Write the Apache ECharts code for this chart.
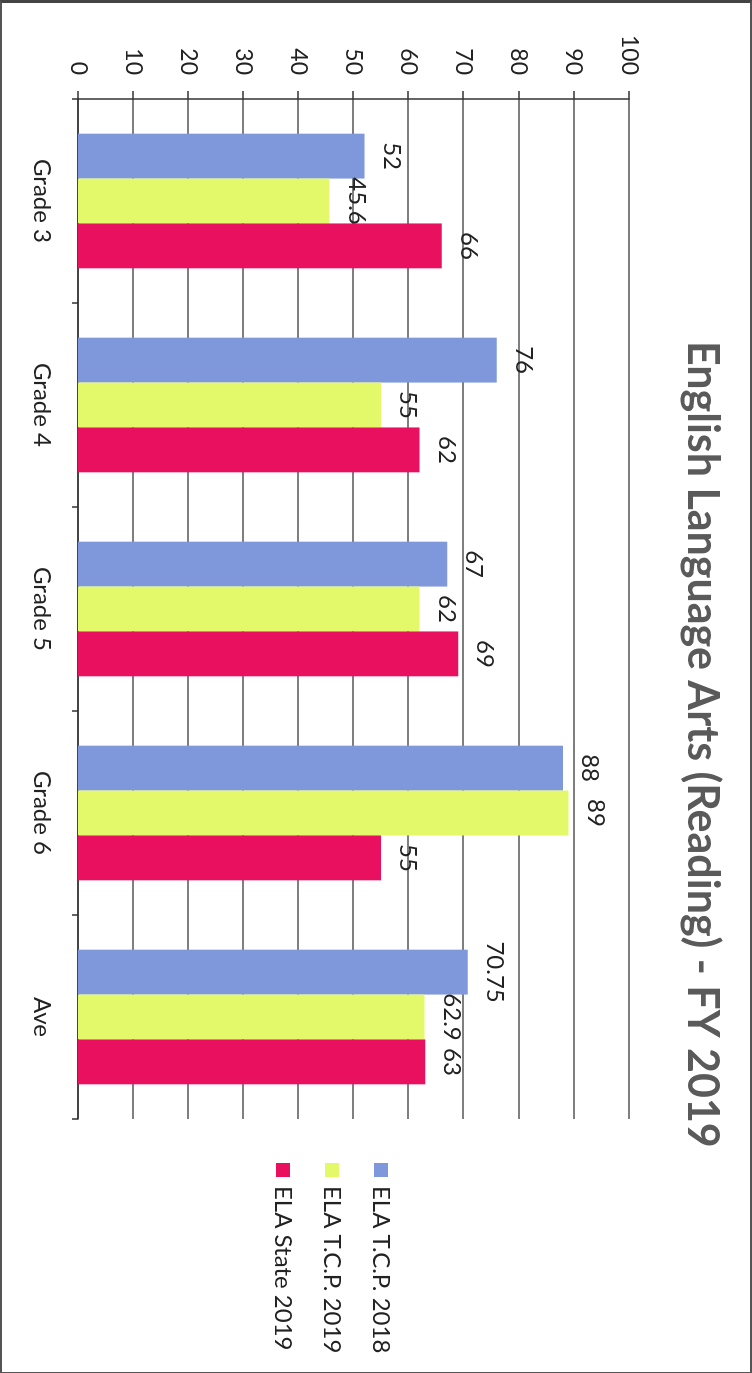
<!DOCTYPE html>
<html>
<head>
<meta charset="utf-8">
<script src="https://cdn.jsdelivr.net/npm/echarts@6/dist/echarts.min.js"></script>
<style>
html,body{margin:0;padding:0;background:#fff;}
body{width:752px;height:1373px;overflow:hidden;position:relative;}
#wrap{position:absolute;left:752px;top:0;width:1373px;height:752px;transform-origin:0 0;transform:rotate(90deg);}
#chart{position:absolute;left:0;top:0;width:1369px;height:748px;border:2px solid #555;border-left:3px solid #444;}
</style>
</head>
<body>
<div id="wrap"><div id="chart"></div></div>
<script>
const titleText = 'English Language Arts (Reading) - FY 2019';
const categories = ['Grade 3', 'Grade 4', 'Grade 5', 'Grade 6', 'Ave'];
const seriesNames = ['ELA T.C.P. 2018', 'ELA T.C.P. 2019', 'ELA State 2019'];
const tcp2018 = [52, 76, 67, 88, 70.75];
const tcp2019 = [45.6, 55, 62, 89, 62.9];
const state2019 = [66, 62, 69, 55, 63];
const colors = ['#7f98dc', '#e4f96a', '#e8105f'];
const valueTicks = { min: 0, max: 100, interval: 10 };

const FONT = 'Lato, "Liberation Sans", sans-serif';
const chart = echarts.init(document.getElementById('chart'), null, { renderer: 'canvas' });

const seriesData = [tcp2018, tcp2019, state2019];
const series = seriesData.map((d, i) => ({
  name: seriesNames[i],
  type: 'bar',
  data: d,
  barGap: '0%',
  barCategoryGap: '34%',
  itemStyle: { color: colors[i] },
  label: {
    show: true,
    position: 'top',
    distance: 15,
    color: '#222',
    fontSize: 24,
    fontFamily: FONT
  }
}));

chart.setOption({
  backgroundColor: '#fff',
  animation: false,
  title: {
    text: titleText,
    left: 333,
    top: 22,
    textStyle: { fontSize: 43, fontWeight: 'bold', color: '#5a5a5a', fontFamily: FONT }
  },
  legend: {
    orient: 'vertical',
    left: 1155,
    top: 352,
    itemWidth: 14,
    itemHeight: 14,
    itemGap: 25,
    icon: 'rect',
    textStyle: { fontSize: 24, color: '#222', fontFamily: FONT, padding: [0, 0, 0, 4] },
    data: seriesNames
  },
  grid: { left: 96, right: 253, top: 121, bottom: 76, containLabel: false },
  xAxis: {
    type: 'category',
    data: categories,
    boundaryGap: true,
    axisLine: { show: true, lineStyle: { color: '#333', width: 1.5 } },
    axisTick: { show: true, length: 6, lineStyle: { color: '#333', width: 1.5 } },
    axisLabel: { fontSize: 24, color: '#222', margin: 24, fontFamily: FONT }
  },
  yAxis: {
    type: 'value',
    min: valueTicks.min,
    max: valueTicks.max,
    interval: valueTicks.interval,
    axisLine: { show: true, lineStyle: { color: '#333', width: 1.5 } },
    axisTick: { show: true, length: 8, lineStyle: { color: '#333', width: 1.5 } },
    axisLabel: { fontSize: 23, color: '#222', margin: 24, fontFamily: FONT },
    splitLine: { show: true, lineStyle: { color: '#555', width: 1.5 } }
  },
  series: series
});
</script>
</body>
</html>
